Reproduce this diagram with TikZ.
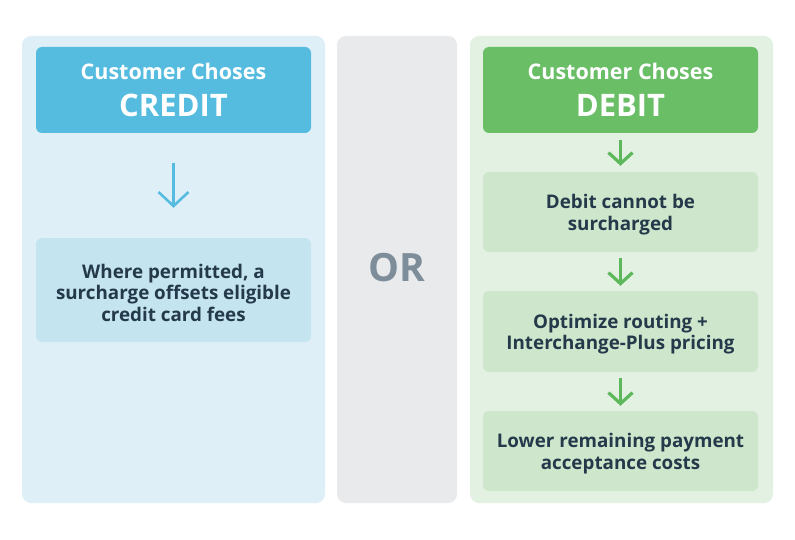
\documentclass[tikz,border=0pt]{standalone}
\usepackage{fontspec}
\setmainfont{Open Sans}
\usetikzlibrary{arrows.meta}
\definecolor{lpanel}{HTML}{DFEFF7}
\definecolor{lhead}{HTML}{55BCE0}
\definecolor{lbox}{HTML}{C4E4EF}
\definecolor{mpanel}{HTML}{E9EAEC}
\definecolor{ortext}{HTML}{7D8D9A}
\definecolor{rpanel}{HTML}{E3F1E2}
\definecolor{rhead}{HTML}{69BE66}
\definecolor{rbox}{HTML}{CEE7CC}
\definecolor{garrow}{HTML}{5CB85A}
\definecolor{darktext}{HTML}{24394A}
\begin{document}
\begin{tikzpicture}[x=1pt,y=-1pt,
  panel/.style={rounded corners=9pt, minimum width=303pt, minimum height=467pt, inner sep=0pt},
  headbox/.style={rounded corners=6pt, minimum width=275pt, minimum height=86pt, inner sep=0pt,
     text=white, align=center, font=\bfseries\fontsize{21.5}{37}\selectfont},
  stepbox/.style={rounded corners=6pt, minimum width=275pt, inner sep=0pt},
  steptext/.style={text=darktext, align=center, inner sep=0pt, yshift=-2.5pt,
     font=\bfseries\fontsize{18.8}{21.5}\selectfont},
  barrow/.style={draw=lhead, line width=2.6pt, -{Straight Barb[length=14pt,width=30pt]}},
  garrowst/.style={draw=garrow, line width=3.2pt, -{Straight Barb[length=11pt,width=24pt]}}
]
\useasboundingbox (0,0) rectangle (795,540);
\fill[white] (0,0) rectangle (795,540);
% panels
\node[panel, fill=lpanel] (lp) at (173.5,269.5) {};
\node[panel, fill=mpanel, minimum width=120pt] (mp) at (397,269.5) {};
\node[panel, fill=rpanel] (rp) at (621.5,269.5) {};
% left column
\node[headbox, fill=lhead] (lh) at (173.5,90) {Customer Choses\\{\fontsize{31}{37}\selectfont CREDIT}};
\node[stepbox, fill=lbox, minimum height=104pt] (lb) at (173.5,290) {};
\node[steptext] (lbt) at (lb.center) {Where permitted, a\\surcharge offsets eligible\\credit card fees};
\draw[barrow, shorten <=30pt, shorten >=30pt] (lh.south) -- (lb.north);
% middle
\node[text=ortext, font=\bfseries\fontsize{39}{40}\selectfont] (or) at (397,268) {OR};
% right column
\node[headbox, fill=rhead] (rh) at (620.5,90) {Customer Choses\\{\fontsize{31}{37}\selectfont DEBIT}};
\node[stepbox, fill=rbox, minimum height=80pt] (r1) at (620.5,212) {};
\node[steptext] (r1t) at (r1.center) {Debit cannot be\\surcharged};
\node[stepbox, fill=rbox, minimum height=81pt] (r2) at (620.5,331.5) {};
\node[steptext] (r2t) at (r2.center) {Optimize routing +\\Interchange-Plus pricing};
\node[stepbox, fill=rbox, minimum height=80pt] (r3) at (620.5,451) {};
\node[steptext] (r3t) at (r3.center) {Lower remaining payment\\acceptance costs};
\draw[garrowst, shorten <=7pt, shorten >=6pt] (rh.south) -- (r1.north);
\draw[garrowst, shorten <=6pt, shorten >=5pt] (r1.south) -- (r2.north);
\draw[garrowst, shorten <=6pt, shorten >=5pt] (r2.south) -- (r3.north);
\end{tikzpicture}
\end{document}
